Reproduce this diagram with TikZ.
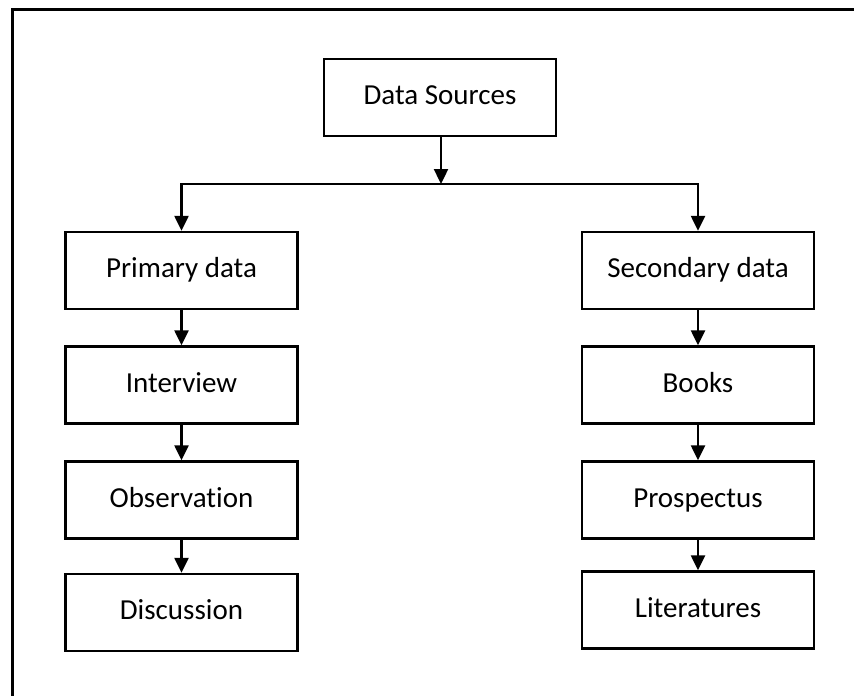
\documentclass[tikz,border=0pt]{standalone}
\usepackage{fontspec}
\setmainfont[Ligatures=CommonOff]{Carlito}
\usetikzlibrary{arrows.meta}
\begin{document}
\begin{tikzpicture}[x=1pt,y=-1pt,
  box/.style={draw=black, line width=2.4pt, fill=white, minimum width=232pt, minimum height=77pt,
    inner sep=0pt, text height=20pt, text depth=6pt, font=\fontsize{29}{35}\selectfont},
  arr/.style={line width=2.4pt, -{Triangle[length=15pt,width=14pt]}},
  frameline/.style={line width=3pt}]
\useasboundingbox (0,0) rectangle (854,696);
% frame (right and bottom edges lie outside the picture)
\draw[frameline] (12,700) -- (12,9.5) -- (860,9.5);
% nodes
\node[box] (ds) at (440,97.5) {Data Sources};
\node[box] (prim) at (181.5,270.5) {Primary data};
\node[box] (intv) at (181.5,385) {Interview};
\node[box] (obs) at (181.5,500) {Observation};
\node[box] (disc) at (181.5,612.5) {Discussion};
\node[box] (sec) at (698,270.5) {Secondary data};
\node[box] (books) at (698,385) {Books};
\node[box] (prosp) at (698,500) {Prospectus};
\node[box] (lit) at (698,610) {Literatures};
\coordinate (j) at (441,184);
% connectors
\draw[arr] (ds.south -| j) -- (j);
\draw[arr] (j) -| (prim.north);
\draw[arr] (j) -| (sec.north);
\draw[arr] (prim) -- (intv);
\draw[arr] (intv) -- (obs);
\draw[arr] (obs) -- (disc);
\draw[arr] (sec) -- (books);
\draw[arr] (books) -- (prosp);
\draw[arr] (prosp) -- (lit);
\end{tikzpicture}
\end{document}
